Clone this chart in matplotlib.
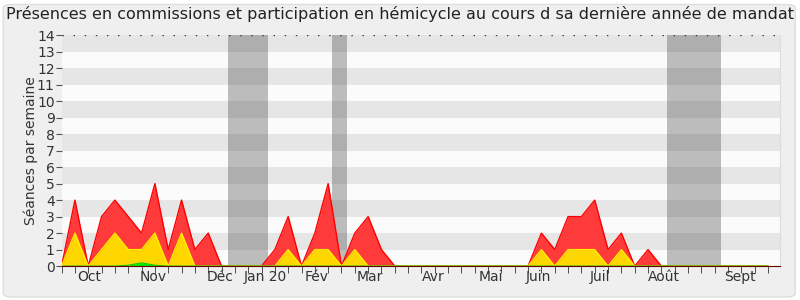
import numpy as np
import matplotlib
matplotlib.use('Agg')
import matplotlib.pyplot as plt
from matplotlib.patches import FancyBboxPatch

# weekly values, one entry per week (week 0 = late September)
total = [0, 4, 0, 3, 4, 3, 2, 5, 1, 4, 1, 2, 0, 0, 0, 0, 1, 3, 0, 2,
         5, 0, 2, 3, 1, 0, 0, 0, 0, 0, 0, 0, 0, 0, 0, 0, 2, 1, 3, 3,
         4, 1, 2, 0, 1, 0, 0, 0, 0, 0, 0, 0, 0, 0]
commission = [0, 2, 0, 1, 2, 1, 1, 2, 0, 2, 0, 0, 0, 0, 0, 0, 0, 1, 0, 1,
              1, 0, 1, 0, 0, 0, 0, 0, 0, 0, 0, 0, 0, 0, 0, 0, 1, 0, 1, 1,
              1, 0, 1, 0, 0, 0, 0, 0, 0, 0, 0, 0, 0, 0]
interventions = [0, 0, 0, 0, 0, 0.05, 0.2, 0.05, 0, 0, 0, 0, 0, 0, 0, 0, 0, 0, 0, 0,
                 0, 0, 0, 0, 0, 0, 0, 0, 0, 0, 0, 0, 0, 0, 0, 0, 0, 0, 0, 0,
                 0, 0, 0, 0, 0, 0, 0, 0, 0, 0, 0, 0, 0, 0]

month_labels = ['Oct', 'Nov', 'Déc', 'Jan 20', 'Fév', 'Mar', 'Avr', 'Mai',
                'Juin', 'Juil', 'Août', 'Sept']
month_pos = [2.1, 6.9, 11.9, 15.3, 19.1, 23.1, 27.9, 32.2, 35.8, 40.4, 45.2, 50.9]
vacations = [(12.5, 15.5), (20.3, 21.4), (45.4, 49.5)]

weeks = np.arange(len(total))

fig = plt.figure(figsize=(8, 3), dpi=100)
fig.patch.set_facecolor('white')
fig.patches.append(FancyBboxPatch((0.004, 0.01), 0.99, 0.975, boxstyle='round,pad=0,rounding_size=0.012',
                                  transform=fig.transFigure, facecolor='#efefef',
                                  edgecolor='#dddddd', linewidth=1, zorder=-10))
ax = fig.add_axes([0.077, 0.113, 0.898, 0.77])
ax.set_facecolor('#fbfbfb')

# alternating bands
for k in range(7):
    ax.axhspan(2 * k + 1, 2 * k + 2, color='#e6e6e6', lw=0, zorder=0)
for a, b in vacations:
    ax.axvspan(a, b, color='#252525', alpha=0.29, lw=0, zorder=1)

ax.fill_between(weeks, total, color='#ff3a3a', lw=0, zorder=2)
ax.plot(weeks, total, color='#ff0000', lw=1, zorder=3)
ax.fill_between(weeks, commission, color='#ffd700', lw=0, zorder=4)
ax.plot(weeks, commission, color='#ffee00', lw=1, zorder=5)
ax.fill_between(weeks, interventions, color='#00ee00', lw=0, zorder=6)
ax.plot(weeks, interventions, color='#00cc00', lw=0.8, zorder=7)

ax.set_xlim(0, 53.9)
ax.set_ylim(0, 14)
ax.set_yticks(range(15))
ax.tick_params(axis='y', labelsize=10, length=4, color='#555555', labelcolor='#333333', pad=1)
ax.set_xticks(np.arange(0, 54, 1), minor=True)
ax.set_xticks(month_pos)
ax.set_xticklabels(month_labels)
ax.tick_params(axis='x', which='major', length=0, labelsize=10, labelcolor='#333333', pad=3)
ax.tick_params(axis='x', which='minor', length=5, color='#333333')
ax.set_ylabel('Séances par semaine', fontsize=10, color='#333333', labelpad=-1)

ax.axhline(14, color='#333333', lw=1, ls=(0, (1, 7)), zorder=8)
for side in ['top', 'left']:
    ax.spines[side].set_visible(False)
ax.spines['right'].set_color('#dddddd')
ax.spines['bottom'].set_color('#660000')
ax.spines['bottom'].set_zorder(9)

fig.text(0.5, 0.955, 'Présences en commissions et participation en hémicycle au cours d sa dernière année de mandat',
         ha='center', va='center', fontsize=11.5, color='#222222')

fig.savefig('out.png', dpi=100, facecolor=fig.get_facecolor())
